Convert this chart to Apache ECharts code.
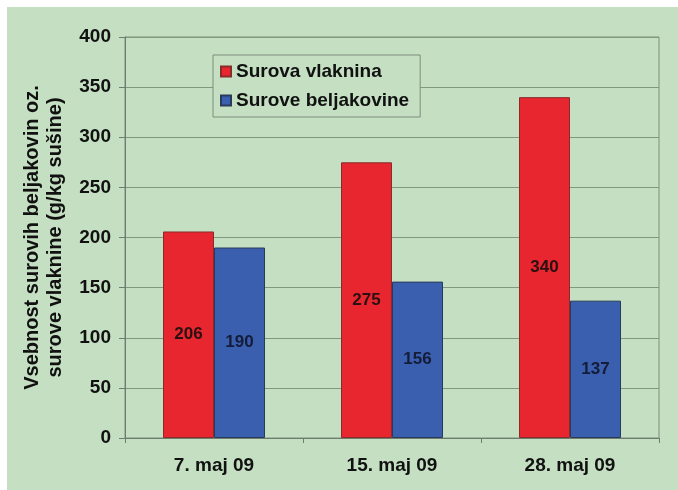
<!DOCTYPE html>
<html>
<head>
<meta charset="utf-8">
<script src="https://cdn.jsdelivr.net/npm/echarts@6/dist/echarts.min.js"></script>
<style>
  html, body { margin: 0; padding: 0; background: #ffffff; }
  #chart { position: absolute; left: 7px; top: 7px; width: 671px; height: 483px; }
</style>
</head>
<body>
<div id="chart"></div>
<script>
// Sampling dates
const categories = ['7. maj 09', '15. maj 09', '28. maj 09'];
// Crude fibre and crude protein content (g/kg dry matter)
const surovaVlaknina = [206, 275, 340];
const suroveBeljakovine = [190, 156, 137];
// Value axis
const yTicks = { min: 0, max: 400, interval: 50 };

const font = 'Liberation Sans, Arial, sans-serif';
const chart = echarts.init(document.getElementById('chart'));

chart.setOption({
  backgroundColor: '#c4dfc1',
  animation: false,
  textStyle: { fontFamily: font },
  grid: {
    left: 118, top: 30, right: 19, bottom: 52,
    show: true, borderColor: '#7c907c', borderWidth: 1, backgroundColor: 'transparent'
  },
  legend: {
    left: 206, top: 48,
    orient: 'vertical',
    itemWidth: 10, itemHeight: 10, itemGap: 10,
    padding: [7, 11, 7, 7],
    backgroundColor: '#c4dfc1',
    borderColor: '#7f8c7f', borderWidth: 1,
    icon: 'rect',
    textStyle: { fontFamily: font, fontWeight: 'bold', fontSize: 19, color: '#111' },
    data: ['Surova vlaknina', 'Surove beljakovine']
  },
  xAxis: {
    type: 'category',
    data: categories,
    axisLine: { lineStyle: { color: '#6d7d6d', width: 1 } },
    axisTick: { show: true, length: 5, lineStyle: { color: '#6d7d6d' } },
    axisLabel: { fontFamily: font, fontWeight: 'bold', fontSize: 19, color: '#111', margin: 18 }
  },
  yAxis: {
    type: 'value',
    min: yTicks.min, max: yTicks.max, interval: yTicks.interval,
    name: 'Vsebnost surovih beljakovin oz.\nsurove vlaknine (g/kg sušine)',
    nameLocation: 'middle',
    nameRotate: 90,
    nameGap: 58,
    nameTextStyle: { fontFamily: font, fontWeight: 'bold', fontSize: 20, color: '#111', lineHeight: 23 },
    axisLine: { show: true, lineStyle: { color: '#6d7d6d', width: 1 } },
    axisTick: { show: true, length: 6, lineStyle: { color: '#6d7d6d' } },
    axisLabel: { fontFamily: font, fontWeight: 'bold', fontSize: 19, color: '#111', margin: 14 },
    splitLine: { lineStyle: { color: '#7f987f', width: 1 } }
  },
  series: [
    {
      name: 'Surova vlaknina',
      type: 'bar',
      data: surovaVlaknina,
      barWidth: 51,
      barGap: '0%',
      itemStyle: { color: '#e8262f', borderColor: '#8a2a2a', borderWidth: 1 },
      label: { show: true, position: 'inside', fontFamily: font, fontWeight: 'bold', fontSize: 17, color: '#2a1010' }
    },
    {
      name: 'Surove beljakovine',
      type: 'bar',
      data: suroveBeljakovine,
      barWidth: 51,
      itemStyle: { color: '#3a5fae', borderColor: '#2a3a5a', borderWidth: 1 },
      label: { show: true, position: 'inside', fontFamily: font, fontWeight: 'bold', fontSize: 17, color: '#141c38' }
    }
  ]
});
</script>
</body>
</html>
